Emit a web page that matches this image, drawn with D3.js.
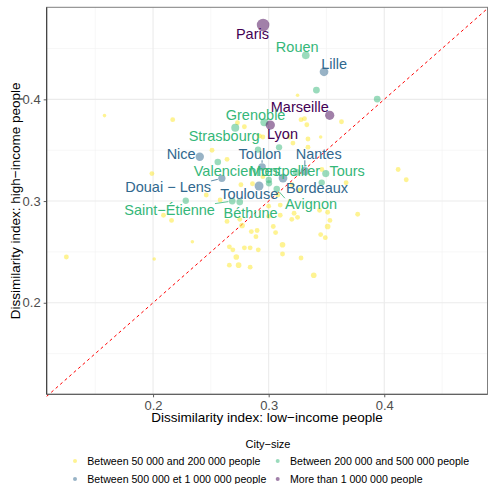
<!DOCTYPE html>
<html><head><meta charset="utf-8">
<script src="https://cdn.jsdelivr.net/npm/d3@7"></script>
<style>body{margin:0;background:#fff}svg{display:block;font-family:"Liberation Sans",Arial,Helvetica,sans-serif}</style>
</head><body><svg id="c" width="488" height="484"></svg>
<script>
// ---------- data ----------
const sizeGroups = [
  "Between 50 000 and 200 000 people",
  "Between 200 000 and 500 000 people",
  "Between 500 000 et 1 000 000 people",
  "More than 1 000 000 people"
];
const xTicks = [0.2, 0.3, 0.4];
const yTicks = [0.2, 0.3, 0.4];
const xMinorTicks = [0.15, 0.25, 0.35, 0.45];
const yMinorTicks = [0.15, 0.25, 0.35, 0.45];

// labelled cities
const cityNames = ["Paris","Rouen","Lille","Marseille","Grenoble","Strasbourg","Lyon","Nice","Toulon","Nantes",
  "Valenciennes","Montpellier","Tours","Douai − Lens","Toulouse","Bordeaux","Saint−Étienne","Béthune","Avignon"];
const cityLow  = [0.2952,0.3321,0.3479,0.3528,0.2962,0.2711,0.3014,0.2404,0.2943,0.3313,
  0.2560,0.3240,0.3494,0.2595,0.2917,0.3124,0.2685,0.2750,0.3070];
const cityHigh = [0.4731,0.4433,0.4271,0.3843,0.3774,0.3721,0.3747,0.3436,0.3334,0.3294,
  0.3383,0.3282,0.3270,0.3223,0.3148,0.3226,0.3000,0.2990,0.3118];
const cityGroup = [3,1,2,3,1,1,3,2,2,2, 1,1,1,2,2,2,1,1,1];
const cityPop   = [10700,650,1180,1600,680,780,1650,1000,600,900, 340,560,480,520,1300,1200,380,360,340];
// label anchors (centre of text, in data units) as placed by the repel layout
const labelLow  = [0.2860,0.3247,0.3567,0.3269,0.2887,0.2615,0.3120,0.2243,0.2925,0.3433,
  0.2724,0.3139,0.3679,0.2131,0.2832,0.3418,0.2143,0.2844,0.3366];
const labelHigh = [0.4649,0.4517,0.4354,0.3927,0.3846,0.3639,0.3659,0.3462,0.3462,0.3462,
  0.3298,0.3298,0.3298,0.3141,0.3069,0.3135,0.2918,0.2889,0.2971];

// unlabelled cities between 200 000 and 500 000 people: [low, high, population (thousands)]
const midCities = [
  [0.3413,0.4091,400],[0.3939,0.4003,400],[0.2908,0.3506,300],[0.3090,0.3528,300],
  [0.2283,0.3003,300],[0.3001,0.3207,300],[0.3003,0.3174,300],[0.3459,0.3182,300]
];
// cities between 50 000 and 200 000 people: [low, high, population (thousands)]
const smallCities = [
  [0.158,0.384,60],[0.217,0.380,130],[0.273,0.377,130],[0.279,0.373,130],[0.325,0.404,60],
  [0.328,0.380,130],[0.331,0.381,130],[0.333,0.375,130],[0.363,0.378,130],[0.345,0.363,60],
  [0.318,0.363,130],[0.321,0.357,130],[0.334,0.361,130],[0.334,0.353,130],[0.295,0.363,130],
  [0.251,0.350,130],[0.264,0.341,130],[0.199,0.327,130],[0.246,0.306,130],[0.258,0.301,130],
  [0.209,0.286,130],[0.216,0.281,130],[0.264,0.280,130],[0.234,0.260,60],[0.266,0.255,130],
  [0.269,0.252,130],[0.276,0.316,130],[0.286,0.317,130],[0.295,0.324,130],[0.320,0.316,130],
  [0.327,0.311,130],[0.308,0.306,130],[0.300,0.295,130],[0.310,0.296,130],[0.277,0.276,200],
  [0.285,0.270,130],[0.290,0.271,130],[0.289,0.265,130],[0.304,0.275,130],[0.306,0.269,130],
  [0.300,0.285,130],[0.310,0.286,130],[0.320,0.282,130],[0.322,0.288,130],[0.325,0.284,130],
  [0.344,0.291,130],[0.351,0.289,130],[0.353,0.281,130],[0.351,0.275,200],[0.345,0.267,130],
  [0.349,0.264,130],[0.377,0.287,130],[0.412,0.331,130],[0.419,0.321,130],[0.367,0.318,130],
  [0.312,0.257,200],[0.312,0.248,130],[0.279,0.254,130],[0.284,0.254,130],[0.291,0.252,130],
  [0.272,0.245,200],[0.266,0.237,130],[0.274,0.237,200],[0.284,0.235,130],[0.328,0.244,130],
  [0.339,0.227,200],[0.125,0.245,130],[0.201,0.243,60],[0.292,0.364,130],[0.346,0.331,130],
  [0.275,0.282,130]
];

// ---------- layout ----------
const W = 488, H = 484;
const P = {left: 46.7, right: 487.5, top: 7.3, bottom: 394.3};
const palette = ["#FDE725","#35B779","#31688E","#440154"];
const svg = d3.select("#c");

const x = d3.scaleLinear().domain([0.108, 0.4893]).range([P.left, P.right]);
const y = d3.scaleLinear().domain([0.110, 0.4905]).range([P.bottom, P.top]);
const r = d3.scaleLog().domain([50, 11000]).range([1.6, 6.3]);
const color = d3.scaleOrdinal().domain([0,1,2,3]).range(palette);

// panel background + grid
svg.append("rect").attr("x",P.left).attr("y",P.top).attr("width",P.right-P.left).attr("height",P.bottom-P.top).attr("fill","#fff");
const grid = svg.append("g");
grid.selectAll(".vminor").data(xMinorTicks).join("line")
  .attr("x1",d=>x(d)).attr("x2",d=>x(d)).attr("y1",P.top).attr("y2",P.bottom)
  .attr("stroke","#F2F2F2").attr("stroke-width",0.6);
grid.selectAll(".hminor").data(yMinorTicks).join("line")
  .attr("y1",d=>y(d)).attr("y2",d=>y(d)).attr("x1",P.left).attr("x2",P.right)
  .attr("stroke","#F2F2F2").attr("stroke-width",0.6);
grid.selectAll(".vmajor").data(xTicks).join("line")
  .attr("x1",d=>x(d)).attr("x2",d=>x(d)).attr("y1",P.top).attr("y2",P.bottom)
  .attr("stroke","#EBEBEB").attr("stroke-width",1.1);
grid.selectAll(".hmajor").data(yTicks).join("line")
  .attr("y1",d=>y(d)).attr("y2",d=>y(d)).attr("x1",P.left).attr("x2",P.right)
  .attr("stroke","#EBEBEB").attr("stroke-width",1.1);

// diagonal y = x
const dmin = Math.max(x.domain()[0], y.domain()[0]);
const dmax = Math.min(x.domain()[1], y.domain()[1]);
svg.append("line")
  .attr("x1", x(x.domain()[0])).attr("y1", y(x.domain()[0]))
  .attr("x2", x(y.domain()[1])).attr("y2", y(y.domain()[1]))
  .attr("stroke","#FF0000").attr("stroke-width",1).attr("stroke-dasharray","3,3");

// points
const pts = [];
smallCities.forEach(d => pts.push({low:d[0], high:d[1], pop:d[2], g:0}));
midCities.forEach(d => pts.push({low:d[0], high:d[1], pop:d[2], g:1}));
cityNames.forEach((n,i) => pts.push({name:n, low:cityLow[i], high:cityHigh[i], pop:cityPop[i], g:cityGroup[i], i}));
const ptsG = svg.append("g");
ptsG.selectAll("circle").data(pts).join("circle")
  .attr("cx",d=>x(d.low)).attr("cy",d=>y(d.high)).attr("r",d=>r(d.pop))
  .attr("fill",d=>color(d.g)).attr("fill-opacity",0.5);

// labels + segments
const labG = svg.append("g");
const segG = svg.insert("g", () => labG.node());
cityNames.forEach((n,i) => {
  const t = labG.append("text")
    .attr("x", x(labelLow[i])).attr("y", y(labelHigh[i])).attr("dy","0.36em")
    .attr("text-anchor","middle").attr("font-size","14.5px")
    .attr("fill", color(cityGroup[i])).text(n);
  const b = t.node().getBBox();
  const px = x(cityLow[i]), py = y(cityHigh[i]);
  const cx = Math.max(b.x, Math.min(px, b.x+b.width));
  const cy = Math.max(b.y+2, Math.min(py, b.y+b.height-2));
  const dist = Math.hypot(px-cx, py-cy);
  const rad = r(cityPop[i]);
  if (dist > rad + 3) {
    const k = (dist - rad - 0.5) / dist;
    segG.append("line").attr("x1",cx).attr("y1",cy)
      .attr("x2", cx + (px-cx)*k).attr("y2", cy + (py-cy)*k)
      .attr("stroke", color(cityGroup[i])).attr("stroke-width",0.8);
  }
});

// axes
const axB = svg.append("g").attr("transform",`translate(0,${P.bottom})`)
  .call(d3.axisBottom(x).tickValues(xTicks).tickSize(3).tickPadding(3).tickFormat(d3.format(".1f")));
const axL = svg.append("g").attr("transform",`translate(${P.left},0)`)
  .call(d3.axisLeft(y).tickValues(yTicks).tickSize(3).tickPadding(3).tickFormat(d3.format(".1f")));
[axB, axL].forEach(a => {
  a.select(".domain").remove();
  a.selectAll(".tick line").attr("stroke","#333").attr("stroke-width",0.8);
  a.selectAll(".tick text").attr("fill","#4D4D4D").attr("font-size","13px")
    .attr("font-family","'Liberation Sans',Arial,sans-serif");
});
// panel frame
svg.append("rect").attr("x",P.left).attr("y",P.top).attr("width",P.right-P.left).attr("height",P.bottom-P.top)
  .attr("fill","none").attr("stroke","#7F7F7F").attr("stroke-width",1);
svg.append("line").attr("x1",P.left).attr("x2",P.left).attr("y1",P.top).attr("y2",P.bottom)
  .attr("stroke","#333").attr("stroke-width",1);
svg.append("line").attr("x1",P.left).attr("x2",P.right).attr("y1",P.bottom).attr("y2",P.bottom)
  .attr("stroke","#555").attr("stroke-width",1);

// axis titles
svg.append("text").attr("x",(P.left+P.right)/2).attr("y",422).attr("text-anchor","middle")
  .attr("font-size","13.5px").attr("fill","#000").text("Dissimilarity index: low−income people");
svg.append("text").attr("transform",`translate(20,${(P.top+P.bottom)/2}) rotate(-90)`).attr("text-anchor","middle")
  .attr("font-size","13.5px").attr("fill","#000").text("Dissimilarity index: high−income people");

// legend
svg.append("text").attr("x",268).attr("y",448).attr("text-anchor","middle")
  .attr("font-size","11px").attr("fill","#000").text("City−size");
const legX = [75, 277.7], legY = [461, 479];
const leg = svg.append("g");
sizeGroups.forEach((g,i) => {
  const lx = legX[i%2], ly = legY[Math.floor(i/2)];
  leg.append("circle").attr("cx",lx).attr("cy",ly).attr("r",2).attr("fill",color(i)).attr("fill-opacity",0.5);
  leg.append("text").attr("x",lx+12.3).attr("y",ly).attr("dy","0.36em")
    .attr("font-size","10.6px").attr("fill","#000").text(g);
});
</script></body></html>
